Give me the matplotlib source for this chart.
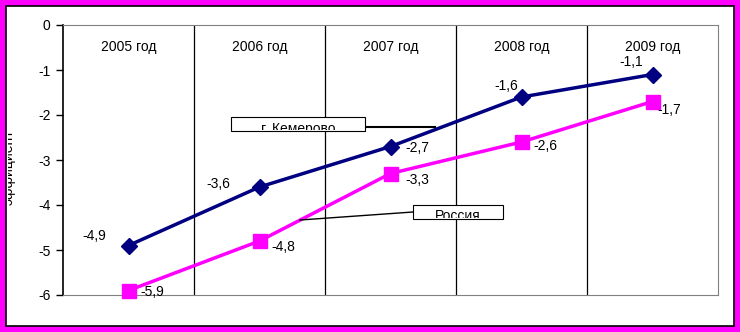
import matplotlib
matplotlib.use("Agg")
import matplotlib.pyplot as plt
from matplotlib.patches import Rectangle
from matplotlib.transforms import Bbox

plt.rcParams['font.family'] = ['Liberation Sans', 'DejaVu Sans']

years = ["2005 год", "2006 год", "2007 год", "2008 год", "2009 год"]
kemerovo = [-4.9, -3.6, -2.7, -1.6, -1.1]
russia = [-5.9, -4.8, -3.3, -2.6, -1.7]
yticks = [0, -1, -2, -3, -4, -5, -6]

W, H = 740, 332
fs = 10
fig = plt.figure(figsize=(W / 100, H / 100), dpi=100, facecolor="#FF00FF")
# white inner panel with thin black frame
fig.patches.append(Rectangle((6 / W, 6 / H), 728 / W, 320 / H, transform=fig.transFigure,
                             facecolor="white", edgecolor="black", lw=1.2, zorder=-5))

ax = fig.add_axes([63 / W, 37 / H, 655 / W, 270 / H])
ax.set_facecolor("none")
x = list(range(len(years)))
ax.set_xlim(-0.5, len(years) - 0.5)
ax.set_ylim(-6, 0)

for i in range(1, len(years)):
    ax.axvline(i - 0.5, color="black", lw=0.9, zorder=1)
for i, yr in enumerate(years):
    ax.text(i, -0.5, yr, ha="center", va="center", fontsize=fs)

ax.plot(x, kemerovo, color="#000080", lw=2.5, marker="D", ms=8, zorder=4, clip_on=False)
ax.plot(x, russia, color="#FF00FF", lw=2.5, marker="s", ms=10, zorder=3, clip_on=False)

# data labels
k_off = [(-25, 7), (-30, 2), (19, -1), (-11, 8), (-15, 9)]
for i, v in enumerate(kemerovo):
    dx, dy = k_off[i]
    ax.annotate(f"{v:.1f}".replace(".", ","), (i, v), xytext=(dx, dy),
                textcoords="offset points", ha="center", va="center", fontsize=fs)
r_off = [(17, -1), (17, -4), (19, -5), (17, -3), (12, -6)]
for i, v in enumerate(russia):
    dx, dy = r_off[i]
    ax.annotate(f"{v:.1f}".replace(".", ","), (i, v), xytext=(dx, dy),
                textcoords="offset points", ha="center", va="center", fontsize=fs)

ax.set_xticks([])
ax.set_yticks(yticks)
ax.set_yticklabels([str(t) for t in yticks], fontsize=fs)
ax.tick_params(axis="y", length=5, width=1, pad=4)
ax.spines["left"].set_color("black")
ax.spines["left"].set_linewidth(1.2)
for s in ["top", "right", "bottom"]:
    ax.spines[s].set_color("#808080")

# series name boxes with leader lines
fig.add_artist(plt.Line2D([365 / W, 435 / W], [(H - 127) / H, (H - 127) / H],
                          color="black", lw=1.5, zorder=4))
fig.patches.append(Rectangle((231 / W, (H - 131) / H), 134 / W, 14 / H, transform=fig.transFigure,
                             facecolor="white", edgecolor="black", lw=0.8, zorder=5))
t1 = fig.text(298 / W, (H - 129) / H, "г. Кемерово", ha="center", va="center", fontsize=fs, zorder=6)
t1.set_clip_box(Bbox([[232, H - 130], [364, H - 118]]))
t1.set_clip_on(True)
fig.add_artist(plt.Line2D([300 / W, 413 / W], [(H - 220) / H, (H - 212) / H],
                          color="black", lw=1, zorder=4))
fig.patches.append(Rectangle((413 / W, (H - 219) / H), 90 / W, 14 / H, transform=fig.transFigure,
                             facecolor="white", edgecolor="black", lw=0.8, zorder=5))
t2 = fig.text(458 / W, (H - 216) / H, "Россия", ha="center", va="center", fontsize=fs, zorder=6)
t2.set_clip_box(Bbox([[414, H - 218], [502, H - 206]]))
t2.set_clip_on(True)

# clipped axis title
t3 = fig.text(9 / W, (H - 167) / H, "эффициент", rotation=90, ha="center", va="center",
              fontsize=fs, color="black")
t3.set_clip_box(Bbox([[8, 0], [40, H]]))
t3.set_clip_on(True)

fig.savefig("out.png", dpi=100, facecolor=fig.get_facecolor())
